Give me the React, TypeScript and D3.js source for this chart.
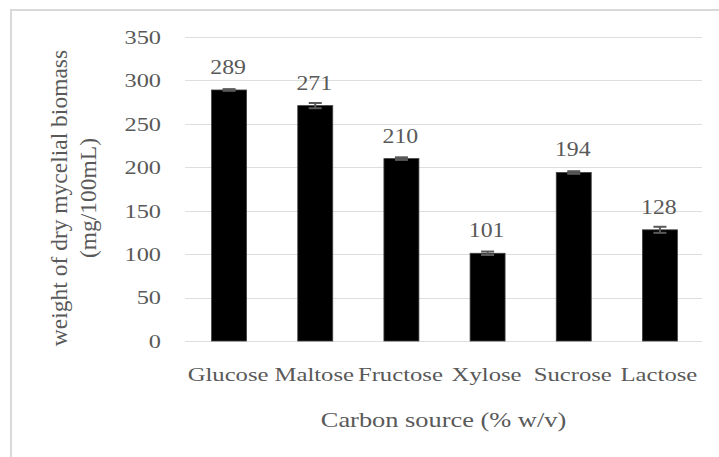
import { useEffect, useRef } from 'react';
import * as d3 from 'd3';

const categories = ['Glucose', 'Maltose', 'Fructose', 'Xylose', 'Sucrose', 'Lactose'];
const biomass = [289, 271, 210, 101, 194, 128];
const errors = [1, 3, 1.5, 2, 1.5, 3.5];
const yTicks = [0, 50, 100, 150, 200, 250, 300, 350];

export default function App() {
  const svgRef = useRef<SVGSVGElement>(null);

  useEffect(() => {
    document.body.style.margin = '0';
    if (!svgRef.current) return;
    const svg = d3.select(svgRef.current);
    svg.selectAll('*').remove();

    const width = 719;
    const height = 457;
    const plot = { left: 185, right: 702, top: 37, bottom: 341 };
    const font = 'Liberation Serif, Times New Roman, serif';
    const textColor = '#595959';

    svg.attr('width', width).attr('height', height);

    // outer frame (cut off at right/bottom like the source)
    svg.append('rect')
      .attr('x', 11).attr('y', 10)
      .attr('width', 760).attr('height', 500)
      .attr('fill', 'white')
      .attr('stroke', '#d9d9d9')
      .attr('stroke-width', 2);

    const data = categories.map((c, i) => ({ name: c, value: biomass[i], err: errors[i] }));

    const x = d3.scaleBand()
      .domain(categories)
      .range([plot.left, plot.right])
      .padding(0);

    const y = d3.scaleLinear()
      .domain([0, 350])
      .range([plot.bottom, plot.top]);

    // gridlines
    svg.append('g')
      .selectAll('line')
      .data(yTicks)
      .enter()
      .append('line')
      .attr('x1', plot.left)
      .attr('x2', plot.right)
      .attr('y1', d => Math.round(y(d)) + 0.5)
      .attr('y2', d => Math.round(y(d)) + 0.5)
      .attr('stroke', '#dedede')
      .attr('stroke-width', 1);

    // y tick labels
    svg.append('g')
      .selectAll('text')
      .data(yTicks)
      .enter()
      .append('text')
      .attr('transform', d => `translate(161,${y(d)}) scale(1.25,1)`)
      .attr('text-anchor', 'end')
      .attr('dy', '0.35em')
      .attr('font-family', font)
      .attr('font-size', '19.5px')
      .attr('fill', textColor)
      .text(d => d);

    const barW = x.bandwidth() * 0.406;

    // bars
    svg.append('g')
      .selectAll('rect')
      .data(data)
      .enter()
      .append('rect')
      .attr('x', d => (x(d.name) || 0) + x.bandwidth() / 2 - barW / 2 + 1)
      .attr('y', d => y(d.value))
      .attr('width', barW)
      .attr('height', d => plot.bottom - y(d.value))
      .attr('fill', '#000')
      .attr('stroke', '#404040')
      .attr('stroke-width', 0.8);

    // error bars
    const eb = svg.append('g')
      .selectAll('g')
      .data(data)
      .enter()
      .append('g')
      .attr('stroke', '#595959')
      .attr('stroke-width', 2);
    const cx = (d: { name: string }) => (x(d.name) || 0) + x.bandwidth() / 2 + 1;
    eb.append('line')
      .attr('x1', cx).attr('x2', cx)
      .attr('y1', d => y(d.value + d.err))
      .attr('y2', d => y(d.value - d.err));
    eb.append('line')
      .attr('x1', d => cx(d) - 6.5).attr('x2', d => cx(d) + 6.5)
      .attr('y1', d => y(d.value + d.err))
      .attr('y2', d => y(d.value + d.err));
    eb.append('line')
      .attr('x1', d => cx(d) - 6.5).attr('x2', d => cx(d) + 6.5)
      .attr('y1', d => y(d.value - d.err))
      .attr('y2', d => y(d.value - d.err));

    // value labels
    svg.append('g')
      .selectAll('text')
      .data(data)
      .enter()
      .append('text')
      .attr('transform', d => `translate(${(x(d.name) || 0) + x.bandwidth() / 2},${y(d.value) - 16}) scale(1.19,1)`)
      .attr('text-anchor', 'middle')
      .attr('font-family', font)
      .attr('font-size', '20px')
      .attr('fill', textColor)
      .text(d => d.value);

    // category labels
    svg.append('g')
      .selectAll('text')
      .data(categories)
      .enter()
      .append('text')
      .attr('transform', d => `translate(${(x(d) || 0) + x.bandwidth() / 2},381) scale(1.3,1)`)
      .attr('text-anchor', 'middle')
      .attr('font-family', font)
      .attr('font-size', '19px')
      .attr('fill', textColor)
      .text(d => d);

    // x axis title
    svg.append('text')
      .attr('transform', `translate(${(plot.left + plot.right) / 2},427) scale(1.2,1)`)
      .attr('text-anchor', 'middle')
      .attr('font-family', font)
      .attr('font-size', '22px')
      .attr('fill', textColor)
      .text('Carbon source (% w/v)');

    // y axis title
    const yt = svg.append('text')
      .attr('transform', `translate(71,198) rotate(-90)`)
      .attr('text-anchor', 'middle')
      .attr('font-family', font)
      .attr('font-size', '23.5px')
      .attr('fill', textColor);
    yt.append('tspan').attr('x', 0).attr('dy', '-0.15em').text('weight of dry mycelial biomass');
    yt.append('tspan').attr('x', 0).attr('dy', '1.2em').text('(mg/100mL)');
  }, []);

  return <svg ref={svgRef} style={{ display: 'block' }}></svg>;
}
